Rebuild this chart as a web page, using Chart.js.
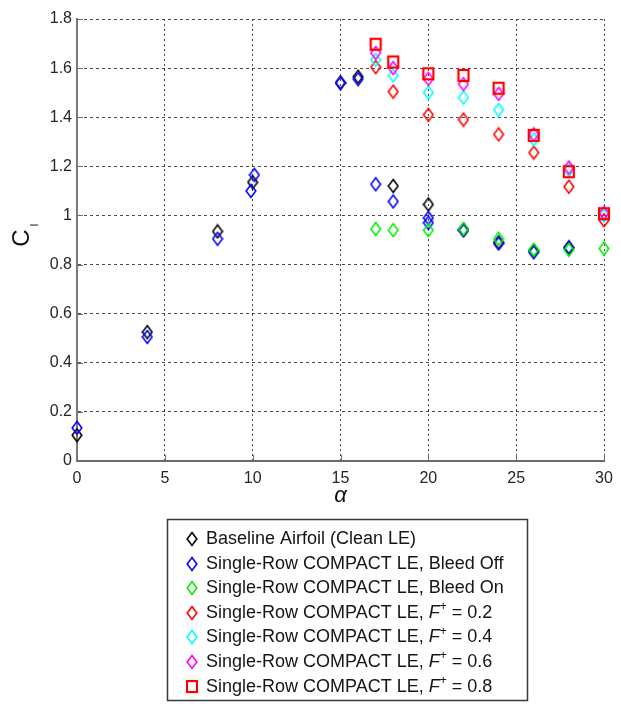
<!DOCTYPE html>
<html>
<head>
<meta charset="utf-8">
<script src="https://cdn.jsdelivr.net/npm/chart.js@4.4.1/dist/chart.umd.min.js"></script>
<style>
  body { margin: 0; background: #fff; }
  canvas { display: block; }
</style>
</head>
<body>
<canvas id="clChart" width="621" height="708"></canvas>
<script>
// angle of attack (deg) and lift coefficient for each configuration
const alphaBase = [0, 4, 8, 10, 15, 16, 18, 20, 22, 24, 26, 28];
const clBase    = [0.105, 0.525, 0.935, 1.135, 1.54, 1.565, 1.12, 1.045, 0.94, 0.89, 0.855, 0.868];

const alphaOff = [0, 4, 8, 9.9, 10.1, 15, 16, 17, 18, 20, 20, 22, 24, 26, 28];
const clOff    = [0.135, 0.505, 0.905, 1.10, 1.165, 1.54, 1.555, 1.127, 1.057, 0.99, 0.97, 0.94, 0.886, 0.85, 0.87];

const alphaFlow = [17, 18, 20, 22, 24, 26, 28, 30];
const clOn  = [0.945, 0.94, 0.94, 0.945, 0.905, 0.86, 0.86, 0.865];
const clF02 = [1.604, 1.504, 1.41, 1.39, 1.33, 1.256, 1.117, 0.98];
const clF04 = [1.634, 1.57, 1.50, 1.48, 1.43, 1.31, 1.185, 1.00];
const clF06 = [1.662, 1.60, 1.556, 1.535, 1.495, 1.33, 1.195, 1.01];
const clF08 = [1.697, 1.625, 1.577, 1.57, 1.518, 1.326, 1.178, 1.007];

const seriesNames = [
  'Baseline Airfoil (Clean LE)',
  'Single-Row COMPACT LE, Bleed Off',
  'Single-Row COMPACT LE, Bleed On',
  'Single-Row COMPACT LE, F+ = 0.2',
  'Single-Row COMPACT LE, F+ = 0.4',
  'Single-Row COMPACT LE, F+ = 0.6',
  'Single-Row COMPACT LE, F+ = 0.8'
];

const xTicks = [0, 5, 10, 15, 20, 25, 30];
const yTicks = [0, 0.2, 0.4, 0.6, 0.8, 1, 1.2, 1.4, 1.6, 1.8];

// hollow MATLAB-style markers (diamonds are a bit taller than wide)
function diamond(color) {
  const c = document.createElement('canvas');
  c.width = 12; c.height = 16;
  const g = c.getContext('2d');
  g.strokeStyle = color;
  g.lineWidth = 1.6;
  g.beginPath();
  g.moveTo(6, 1.5); g.lineTo(10.8, 8); g.lineTo(6, 14.5); g.lineTo(1.2, 8);
  g.closePath();
  g.stroke();
  return c;
}
function square(color) {
  const c = document.createElement('canvas');
  c.width = 14; c.height = 15;
  const g = c.getContext('2d');
  g.strokeStyle = color;
  g.lineWidth = 2.2;
  g.strokeRect(2, 2, 10, 11);
  return c;
}

const pts = (xs, ys) => xs.map((x, i) => ({ x: x, y: ys[i] }));

const series = [
  { data: pts(alphaBase, clBase), marker: diamond('#000000') },
  { data: pts(alphaOff, clOff), marker: diamond('#0000ff') },
  { data: pts(alphaFlow, clOn), marker: diamond('#00ee00') },
  { data: pts(alphaFlow, clF02), marker: diamond('#ff0000') },
  { data: pts(alphaFlow, clF04), marker: diamond('#00ffff') },
  { data: pts(alphaFlow, clF06), marker: diamond('#ff00ff') },
  { data: pts(alphaFlow, clF08), marker: square('#ff0000') }
];

const datasets = series.map((s, i) => ({
  label: seriesNames[i],
  data: s.data,
  pointStyle: s.marker,
  pointRadius: 6,
  showLine: false,
  clip: false,
  order: series.length - i   // later series on top
}));

const tickFont = { family: "'Liberation Sans Narrow', 'Arial Narrow', 'Liberation Sans', sans-serif", size: 16 };
const textFont = "'Liberation Sans', Arial, sans-serif";

// inward tick marks, axis titles and the boxed legend
const decorations = {
  id: 'decorations',
  afterDraw(chart) {
    const ctx = chart.ctx;
    const xs = chart.scales.x, ys = chart.scales.y;
    const a = chart.chartArea;
    ctx.save();

    ctx.strokeStyle = '#6b6b6b';
    ctx.lineWidth = 1;
    xTicks.forEach(v => {
      const px = Math.round(xs.getPixelForValue(v)) + 0.5;
      ctx.beginPath(); ctx.moveTo(px, a.bottom); ctx.lineTo(px, a.bottom - 6); ctx.stroke();
    });
    yTicks.forEach(v => {
      const py = Math.round(ys.getPixelForValue(v)) + 0.5;
      ctx.beginPath(); ctx.moveTo(a.left, py); ctx.lineTo(a.left + 6, py); ctx.stroke();
    });

    // x title
    ctx.fillStyle = '#111';
    ctx.font = 'italic 22px ' + textFont;
    ctx.textAlign = 'center';
    ctx.textBaseline = 'middle';
    ctx.fillText('α', (a.left + a.right) / 2, 496);

    // y title C_l
    ctx.save();
    ctx.translate(29, 238);
    ctx.rotate(-Math.PI / 2);
    ctx.textBaseline = 'alphabetic';
    ctx.font = '24px ' + textFont;
    ctx.fillText('C', 0, 0);
    ctx.font = '11px ' + textFont;
    ctx.fillText('l', 13, 9);
    ctx.restore();

    // legend
    ctx.strokeStyle = '#3a3a3a';
    ctx.lineWidth = 1.5;
    ctx.strokeRect(167.5, 519.5, 360, 181);
    ctx.textAlign = 'left';
    ctx.textBaseline = 'middle';
    chart.data.datasets.forEach((ds, i) => {
      const y = 539 + i * 24.6;
      const m = ds.pointStyle;
      ctx.drawImage(m, 192 - m.width / 2, Math.round(y - m.height / 2));
      let x = 206;
      const label = ds.label;
      const k = label.indexOf('F+');
      ctx.fillStyle = '#151515';
      ctx.font = '18px ' + textFont;
      if (k < 0) {
        ctx.fillText(label, x, y);
        return;
      }
      const head = label.slice(0, k), tail = label.slice(k + 2);
      ctx.fillText(head, x, y);
      x += ctx.measureText(head).width;
      ctx.font = 'italic 18px ' + textFont;
      ctx.fillText('F', x, y);
      x += ctx.measureText('F').width;
      ctx.font = '12px ' + textFont;
      ctx.fillText('+', x, y - 6);
      x += ctx.measureText('+').width;
      ctx.font = '18px ' + textFont;
      ctx.fillText(tail, x, y);
    });
    ctx.restore();
  }
};

new Chart(document.getElementById('clChart'), {
  type: 'scatter',
  data: { datasets: datasets },
  options: {
    responsive: false,
    animation: false,
    devicePixelRatio: 1,
    layout: { padding: { top: 19, right: 17, left: 0, bottom: 0 } },
    plugins: { legend: { display: false }, tooltip: { enabled: false } },
    scales: {
      x: {
        type: 'linear', min: 0, max: 30,
        afterFit: s => { s.height = 247; },
        afterBuildTicks: s => { s.ticks = xTicks.map(v => ({ value: v })); },
        ticks: { font: tickFont, color: '#262626', padding: 8, maxRotation: 0 },
        grid: { color: '#4a4a4a', lineWidth: 1, drawTicks: false },
        border: { color: '#6b6b6b', width: 2, dash: [2, 3] }
      },
      y: {
        type: 'linear', min: 0, max: 1.8,
        afterFit: s => { s.width = 77; },
        afterBuildTicks: s => { s.ticks = yTicks.map(v => ({ value: v })); },
        ticks: {
          font: tickFont, color: '#262626', padding: 5,
          callback: v => String(+v.toFixed(1))
        },
        grid: { color: '#4a4a4a', lineWidth: 1, drawTicks: false },
        border: { color: '#7a7a7a', width: 2, dash: [3, 3] }
      }
    }
  },
  plugins: [decorations]
});
</script>
</body>
</html>
